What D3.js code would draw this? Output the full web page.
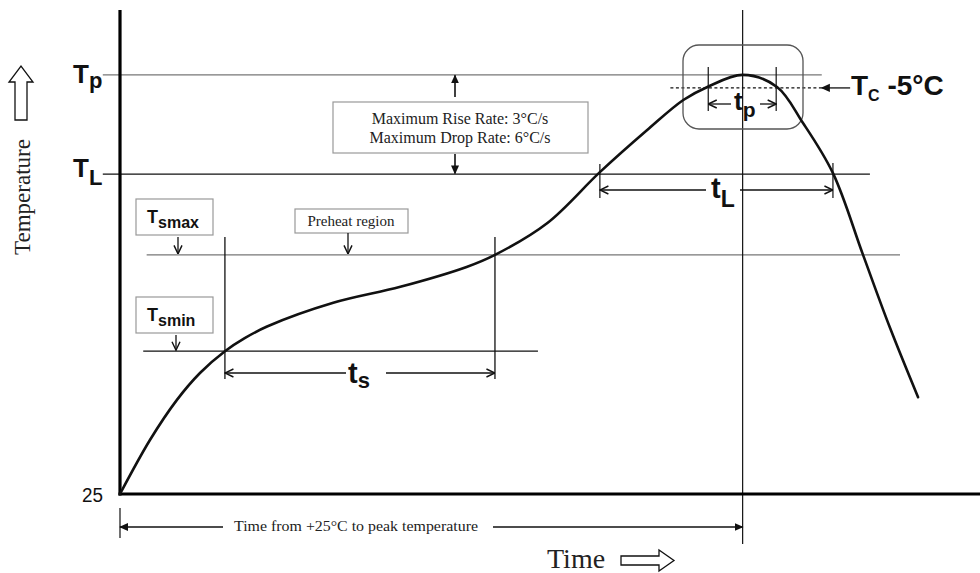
<!DOCTYPE html>
<html>
<head>
<meta charset="utf-8">
<script src="https://cdn.jsdelivr.net/npm/d3@7"></script>
<style>
  html, body { margin: 0; padding: 0; background: #fff; }
  svg { display: block; }
  .serif { font-family: 'Liberation Serif', 'Times New Roman', serif; fill: #222; }
  .bold { font-family: 'Liberation Sans', Arial, sans-serif; font-weight: bold; fill: #111; }
  .narrow { font-family: 'Liberation Sans Narrow', 'Liberation Sans', Arial, sans-serif; fill: #111; }
</style>
</head>
<body>
<div id="chart"></div>
<script>
// curve of the profile (time %, temperature % of the drawn height)
var curveTime = [0, 3.5, 6.6, 9.3, 12.2, 14.5, 17.1, 24.8, 32.6, 40.3, 43.6, 49.7, 55.8, 61.3, 65.5, 68.3, 72.4, 76.4, 79.4, 82.9, 86.4, 89.5, 92.8]
var curveTemp = [0, 11.2, 19.4, 25.0, 29.5, 32.2, 34.6, 39.5, 42.8, 46.9, 49.4, 56.0, 66.5, 75.2, 81.4, 84.1, 86.6, 84.1, 76.7, 66.3, 49.4, 34.5, 20.0]

// temperature levels
var levelNames = ['Tp', 'Tc', 'TL', 'Tsmax', 'Tsmin']
var levelValues = [86.6, 83.9, 66.1, 49.4, 29.5]

// time marks
var timeNames = ['tsStart', 'tsEnd', 'tLStart', 'tLEnd', 'tpStart', 'tpEnd', 'peak']
var timeValues = [12.2, 43.6, 55.8, 82.9, 68.4, 76.3, 72.4]

var yTickLabel = '25'
var rateLines = ['Maximum Rise Rate: 3°C/s', 'Maximum Drop Rate: 6°C/s']
var preheatLabel = 'Preheat region'
var tcLabel = ' -5°C'
var timeFromLabel = 'Time from +25°C to peak temperature'
var xTitle = 'Time'
var yTitle = 'Temperature'

var level = {}
levelNames.forEach(function(n, i) { level[n] = levelValues[i] })
var tm = {}
timeNames.forEach(function(n, i) { tm[n] = timeValues[i] })

var width = 980, height = 573
var x = d3.scaleLinear().domain([0, 100]).range([120, 980])
var y = d3.scaleLinear().domain([0, 100]).range([494, 10])

var svg = d3.select('#chart').append('svg')
  .attr('width', width)
  .attr('height', height)

var defs = svg.append('defs')
// open chevron
defs.append('marker')
  .attr('id', 'chev')
  .attr('viewBox', '0 0 10 10')
  .attr('refX', 9.5).attr('refY', 5)
  .attr('markerWidth', 10).attr('markerHeight', 10)
  .attr('markerUnits', 'userSpaceOnUse')
  .attr('orient', 'auto-start-reverse')
  .append('path')
  .attr('d', 'M1,1 L9.5,5 L1,9')
  .attr('fill', 'none')
  .attr('stroke', '#111')
  .attr('stroke-width', 1.4)
// filled head
defs.append('marker')
  .attr('id', 'tri')
  .attr('viewBox', '0 0 10 10')
  .attr('refX', 9).attr('refY', 5)
  .attr('markerWidth', 9).attr('markerHeight', 9)
  .attr('markerUnits', 'userSpaceOnUse')
  .attr('orient', 'auto-start-reverse')
  .append('path')
  .attr('d', 'M0,0.5 L10,5 L0,9.5 Z')
  .attr('fill', '#111')

function hline(t0, t1, v, color, w) {
  return svg.append('line')
    .attr('x1', x(t0)).attr('x2', x(t1))
    .attr('y1', y(v)).attr('y2', y(v))
    .attr('stroke', color).attr('stroke-width', w)
}
function vline(t, v0, v1, color, w) {
  return svg.append('line')
    .attr('x1', x(t)).attr('x2', x(t))
    .attr('y1', y(v0)).attr('y2', y(v1))
    .attr('stroke', color).attr('stroke-width', w)
}
function arrow(x1, y1, x2, y2, mk, w) {
  return svg.append('line')
    .attr('x1', x1).attr('y1', y1).attr('x2', x2).attr('y2', y2)
    .attr('stroke', '#111').attr('stroke-width', w || 1.3)
    .attr('marker-end', 'url(#' + mk + ')')
}
// big letter + subscript
function subLabel(px, py, main, sub, size, subSize, dy, anchor) {
  var t = svg.append('text')
    .attr('class', 'bold')
    .attr('x', px).attr('y', py)
    .attr('font-size', size)
    .attr('text-anchor', anchor || 'start')
  t.append('tspan').text(main)
  t.append('tspan').attr('font-size', subSize).attr('dy', dy).text(sub)
  return t
}

// level lines
hline(-2, 81.6, level.Tp, '#777', 1.3)
hline(-2, 87.2, level.TL, '#111', 1.3)
hline(3.1, 90.7, level.Tsmax, '#777', 1.3)
hline(2.7, 48.6, level.Tsmin, '#111', 1.3)

// Tc -5 dashed line + arrow
hline(64.0, 81.6, level.Tc, '#111', 1.2).attr('stroke-dasharray', '3,2.5')
arrow(x(84.9), y(level.Tc), x(81.6), y(level.Tc), 'tri', 1.3)

// preheat verticals
vline(tm.tsStart, y.invert(237), y.invert(379), '#111', 1.3)
vline(tm.tsEnd, y.invert(237), y.invert(379), '#111', 1.3)

// tL ticks
vline(tm.tLStart, y.invert(164), y.invert(198), '#111', 1.2)
vline(tm.tLEnd, y.invert(163), y.invert(198), '#111', 1.2)
// tp ticks
vline(tm.tpStart, y.invert(67), y.invert(111), '#111', 1.2)
vline(tm.tpEnd, y.invert(67), y.invert(111), '#111', 1.2)

// peak vertical
vline(tm.peak, y.invert(10), y.invert(544), '#111', 1.2)

// tp rounded box
svg.append('rect')
  .attr('x', 683).attr('y', 45)
  .attr('width', 120).attr('height', 84)
  .attr('rx', 16).attr('ry', 16)
  .attr('fill', 'none')
  .attr('stroke', '#555').attr('stroke-width', 1.3)

// axes
svg.append('line')
  .attr('x1', x(0)).attr('x2', x(0))
  .attr('y1', y(100)).attr('y2', y(0) + 1.5)
  .attr('stroke', '#000').attr('stroke-width', 3.2)
svg.append('line')
  .attr('x1', x(0) - 1.5).attr('x2', x(100))
  .attr('y1', y(0)).attr('y2', y(0))
  .attr('stroke', '#000').attr('stroke-width', 3.2)

// profile curve
var pts = curveTime.map(function(t, i) { return [t, curveTemp[i]] })
var line = d3.line()
  .x(function(d) { return x(d[0]) })
  .y(function(d) { return y(d[1]) })
  .curve(d3.curveCatmullRom.alpha(0.5))
svg.append('path')
  .datum(pts)
  .attr('d', line)
  .attr('fill', 'none')
  .attr('stroke', '#111')
  .attr('stroke-width', 2.6)
  .attr('stroke-linecap', 'round')

// ts arrow
var tsY = 373
arrow(346, tsY, x(tm.tsStart), tsY, 'chev')
arrow(386, tsY, x(tm.tsEnd), tsY, 'chev')
subLabel(348, 383, 't', 's', 29, 22, 5)

// tL arrow
var tLY = 190
arrow(706, tLY, x(tm.tLStart), tLY, 'chev')
arrow(740, tLY, x(tm.tLEnd), tLY, 'chev')
subLabel(711, 198, 't', 'L', 29, 23, 9)

// tp arrow
var tpY = 104
arrow(731, tpY, x(tm.tpStart), tpY, 'chev')
arrow(760, tpY, x(tm.tpEnd), tpY, 'chev')
subLabel(734, 110, 't', 'p', 26, 21, 7)

// rate box
svg.append('rect')
  .attr('x', 333).attr('y', 102)
  .attr('width', 255).attr('height', 51)
  .attr('fill', '#fff')
  .attr('stroke', '#999').attr('stroke-width', 1.2)
rateLines.forEach(function(s, i) {
  svg.append('text')
    .attr('class', 'serif')
    .attr('x', 460).attr('y', 124 + i * 19)
    .attr('text-anchor', 'middle')
    .attr('font-size', 16)
    .text(s)
})
arrow(455, 97, 455, y(level.Tp) + 0.5, 'tri', 1.6)
arrow(455, 154, 455, y(level.TL) - 0.5, 'tri', 1.6)

// preheat box
svg.append('rect')
  .attr('x', 295).attr('y', 209)
  .attr('width', 113).attr('height', 24)
  .attr('fill', '#fff')
  .attr('stroke', '#999').attr('stroke-width', 1.2)
svg.append('text')
  .attr('class', 'serif')
  .attr('x', 351).attr('y', 226)
  .attr('text-anchor', 'middle')
  .attr('font-size', 15)
  .text(preheatLabel)
arrow(348, 233, 348, y(level.Tsmax) - 1, 'chev', 1.3)

// Tsmax / Tsmin boxes
;[['smax', 199, 178, level.Tsmax], ['smin', 297, 176, level.Tsmin]].forEach(function(b) {
  svg.append('rect')
    .attr('x', 136).attr('y', b[1])
    .attr('width', 77).attr('height', 36)
    .attr('fill', '#fff')
    .attr('stroke', '#999').attr('stroke-width', 1.2)
  subLabel(147, b[1] + 24, 'T', b[0], 18, 16, 5)
  arrow(b[2], b[1] + 38, b[2], y(b[3]) - 1, 'chev', 1.3)
})

// left level labels
subLabel(73, 83, 'T', 'p', 26, 22, 5)
subLabel(73, 177, 'T', 'L', 26, 22, 8)
// Tc -5°C
var tc = svg.append('text')
  .attr('class', 'bold')
  .attr('x', 851).attr('y', 95)
  .attr('font-size', 28)
tc.append('tspan').text('T')
tc.append('tspan').attr('font-size', 16).attr('dy', 6).text('C')
tc.append('tspan').attr('dy', -6).text(tcLabel)

// y tick label
svg.append('text')
  .attr('class', 'narrow')
  .attr('x', 103).attr('y', 502)
  .attr('text-anchor', 'end')
  .attr('font-size', 20)
  .attr('textLength', 21)
  .attr('lengthAdjust', 'spacingAndGlyphs')
  .text(yTickLabel)

// time from +25 to peak
var tfY = 527
svg.append('line')
  .attr('x1', x(0)).attr('x2', x(0))
  .attr('y1', 508).attr('y2', 538)
  .attr('stroke', '#111').attr('stroke-width', 1.2)
arrow(223, tfY, x(0), tfY, 'tri', 1.4)
arrow(493, tfY, x(tm.peak), tfY, 'tri', 1.4)
svg.append('text')
  .attr('class', 'serif')
  .attr('x', 234).attr('y', 531)
  .attr('font-size', 14)
  .attr('textLength', 244)
  .attr('lengthAdjust', 'spacingAndGlyphs')
  .text(timeFromLabel)

// axis titles
svg.append('text')
  .attr('class', 'serif')
  .attr('x', 547).attr('y', 568)
  .attr('font-size', 28)
  .text(xTitle)
svg.append('path')
  .attr('d', 'M621,556 L659,556 L659,550 L674,560.5 L659,571 L659,565 L621,565 Z')
  .attr('fill', '#fff').attr('stroke', '#111').attr('stroke-width', 1.3)

svg.append('text')
  .attr('class', 'serif')
  .attr('transform', 'translate(30,197) rotate(-90)')
  .attr('text-anchor', 'middle')
  .attr('font-size', 23)
  .text(yTitle)
svg.append('path')
  .attr('d', 'M15,120 L15,82 L9,82 L21,66 L33,82 L27,82 L27,120 Z')
  .attr('fill', '#fff').attr('stroke', '#111').attr('stroke-width', 1.3)
</script>
</body>
</html>
